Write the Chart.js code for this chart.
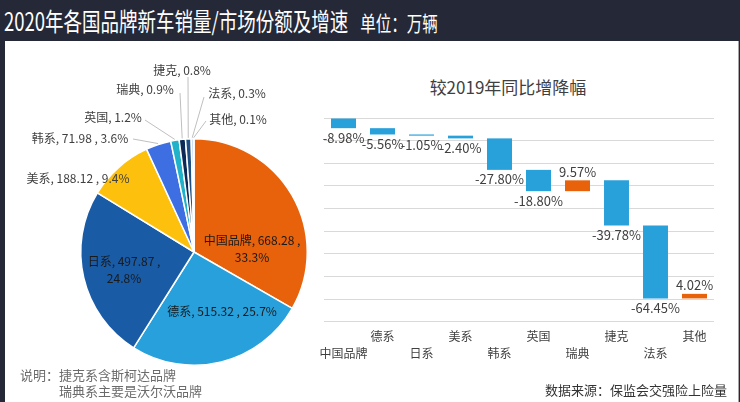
<!DOCTYPE html>
<html>
<head>
<meta charset="utf-8">
<script src="https://cdn.jsdelivr.net/npm/chart.js@4"></script>
<style>
  body { margin: 0; background: #fff; }
  #page { position: relative; width: 740px; height: 402px; background: #252836; overflow: hidden;
    font-family: "Noto Sans CJK SC", "Microsoft YaHei", sans-serif; }
  #panel { position: absolute; left: 5px; top: 41px; width: 733px; height: 361px; background: #fff; border-right: 1px solid #a6a6a6; }
  #title { position: absolute; left: 4px; top: 2px; color: #fff; white-space: nowrap; transform: scaleX(0.74); transform-origin: left top; }
  #title .main { font-size: 25px; }
  #title .unit { font-size: 21px; margin-left: 16px; }
  #pieCanvas { position: absolute; left: 5px; top: 41px; }
  #barCanvas { position: absolute; left: 310px; top: 100px; }
  #barTitle { position: absolute; left: 410px; top: 74px; width: 196px; text-align: center; font-size: 17px; color: #404040; }
  .note { position: absolute; font-size: 13px; color: #6b6b6b; white-space: nowrap; }
  #source { position: absolute; left: 545px; top: 380px; font-size: 13px; color: #333; white-space: nowrap; }
</style>
</head>
<body>
<div id="page">
  <div id="panel"></div>
  <div id="title"><span class="main">2020年各国品牌新车销量/市场份额及增速</span><span class="unit">单位：万辆</span></div>
  <canvas id="pieCanvas" width="315" height="330"></canvas>
  <div id="barTitle">较2019年同比增降幅</div>
  <canvas id="barCanvas" width="428" height="270"></canvas>
  <div class="note" style="left:20px; top:365px;">说明：捷克系含斯柯达品牌</div>
  <div class="note" style="left:59px; top:381px;">瑞典系主要是沃尔沃品牌</div>
  <div id="source">数据来源：保监会交强险上险量</div>
</div>
<script>
const FONT = '"Noto Sans CJK SC", "Microsoft YaHei", sans-serif';

// pie: sales (万辆) and share as printed
const brands = ['中国品牌', '德系', '日系', '美系', '韩系', '英国', '瑞典', '捷克', '法系', '其他'];
const sales = [668.28, 515.32, 497.87, 188.12, 71.98, 24.08, 18.06, 16.05, 6.02, 2.01];
const shares = [33.3, 25.7, 24.8, 9.4, 3.6, 1.2, 0.9, 0.8, 0.3, 0.1];
const showSales = [true, true, true, true, true, false, false, false, false, false];
const pieColors = ['#e8620c', '#27a0db', '#1a5ba6', '#fdc10d', '#3d6fe3', '#20b2c8', '#0b2a56', '#1e4f82', '#5b9bd5', '#a5a5a5'];

// waterfall: change vs 2019 (%)
const changes = [-8.98, -5.56, -1.05, -2.40, -27.80, -18.80, 9.57, -39.78, -64.45, 4.02];
const yTicksMin = -180, yTicksMax = 0, yStep = 20;

// label placement for the pie (page coords), lx/ly = end of leader line
const PIE_LEFT = 5, PIE_TOP = 41;
const pieLabelPos = [
  { x: 252, y: 240, split: true, inside: true },
  { x: 222, y: 311, inside: true },
  { x: 124, y: 261, split: true, inside: true },
  { x: 78, y: 178 },
  { x: 80, y: 138, lx: 133, ly: 139 },
  { x: 113, y: 117, lx: 145, ly: 120 },
  { x: 145, y: 89, lx: 180, ly: 93 },
  { x: 182, y: 70, lx: 188, ly: 77 },
  { x: 237, y: 93, lx: 204, ly: 97 },
  { x: 238, y: 119, lx: 206, ly: 121 }
];

function pieLabelLines(i) {
  const name = brands[i];
  const pct = shares[i].toFixed(1) + '%';
  if (!showSales[i]) return [name + ', ' + pct];
  const head = name + ', ' + sales[i].toFixed(2) + ' ,';
  return pieLabelPos[i].split ? [head, pct] : [head + ' ' + pct];
}

const pieLabels = {
  id: 'pieLabels',
  afterDatasetsDraw(chart) {
    const ctx = chart.ctx;
    const arcs = chart.getDatasetMeta(0).data;
    ctx.save();
    ctx.font = '12px ' + FONT;
    ctx.textAlign = 'center';
    ctx.textBaseline = 'middle';
    arcs.forEach((arc, i) => {
      const p = pieLabelPos[i];
      const px = p.x - PIE_LEFT, py = p.y - PIE_TOP;
      if (p.lx !== undefined) {
        const mid = (arc.startAngle + arc.endAngle) / 2;
        const r = arc.outerRadius + 1;
        ctx.strokeStyle = '#bfbfbf';
        ctx.lineWidth = 1;
        ctx.beginPath();
        ctx.moveTo(arc.x + Math.cos(mid) * r, arc.y + Math.sin(mid) * r);
        ctx.lineTo(p.lx - PIE_LEFT, p.ly - PIE_TOP);
        ctx.stroke();
      }
      ctx.fillStyle = p.inside ? '#1a1a1a' : '#404040';
      const lines = pieLabelLines(i);
      lines.forEach((t, k) => ctx.fillText(t, px, py + k * 17));
    });
    ctx.restore();
  }
};

new Chart(document.getElementById('pieCanvas'), {
  type: 'pie',
  data: {
    labels: brands,
    datasets: [{
      data: sales,
      backgroundColor: pieColors,
      borderColor: '#fff',
      borderWidth: 1.5
    }]
  },
  options: {
    responsive: false,
    animation: false,
    layout: { padding: { left: 75, right: 12, top: 97, bottom: 5 } },
    plugins: { legend: { display: false }, tooltip: { enabled: false } }
  },
  plugins: [pieLabels]
});

// waterfall ranges from the changes
const ranges = [];
let running = 0;
changes.forEach(c => {
  ranges.push([running, running + c]);
  running += c;
});

const xLabels = brands.map((b, i) => i % 2 === 0 ? ['', b] : [b]);

const waterfallLabels = {
  id: 'waterfallLabels',
  afterDatasetsDraw(chart) {
    const { ctx, scales: { y } } = chart;
    const bars = chart.getDatasetMeta(0).data;
    ctx.save();
    ctx.font = '13px ' + FONT;
    ctx.fillStyle = '#404040';
    ctx.textAlign = 'center';
    bars.forEach((bar, i) => {
      const a = y.getPixelForValue(ranges[i][0]);
      const b = y.getPixelForValue(ranges[i][1]);
      const txt = changes[i].toFixed(2) + '%';
      if (changes[i] < 0) {
        ctx.textBaseline = 'top';
        ctx.fillText(txt, bar.x, Math.max(a, b) + 3);
      } else {
        ctx.textBaseline = 'bottom';
        ctx.fillText(txt, bar.x, Math.min(a, b) - 2);
      }
    });
    ctx.restore();
  }
};

new Chart(document.getElementById('barCanvas'), {
  type: 'bar',
  data: {
    labels: xLabels,
    datasets: [{
      data: ranges,
      backgroundColor: changes.map(c => c < 0 ? '#28a0da' : '#e8620c'),
      barPercentage: 0.64,
      categoryPercentage: 1
    }]
  },
  options: {
    responsive: false,
    animation: false,
    layout: { padding: { left: 14, right: 24, top: 18, bottom: 2 } },
    scales: {
      x: {
        grid: { display: false, drawTicks: false },
        border: { display: false },
        ticks: {
          autoSkip: false, maxRotation: 0, padding: 6,
          color: '#404040',
          font: { family: FONT, size: 12, lineHeight: 1.42 }
        }
      },
      y: {
        min: yTicksMin, max: yTicksMax,
        grid: { color: '#d9d9d9', drawTicks: false },
        border: { display: false },
        ticks: { display: false, stepSize: yStep }
      }
    },
    plugins: { legend: { display: false }, tooltip: { enabled: false } }
  },
  plugins: [waterfallLabels]
});
</script>
</body>
</html>
